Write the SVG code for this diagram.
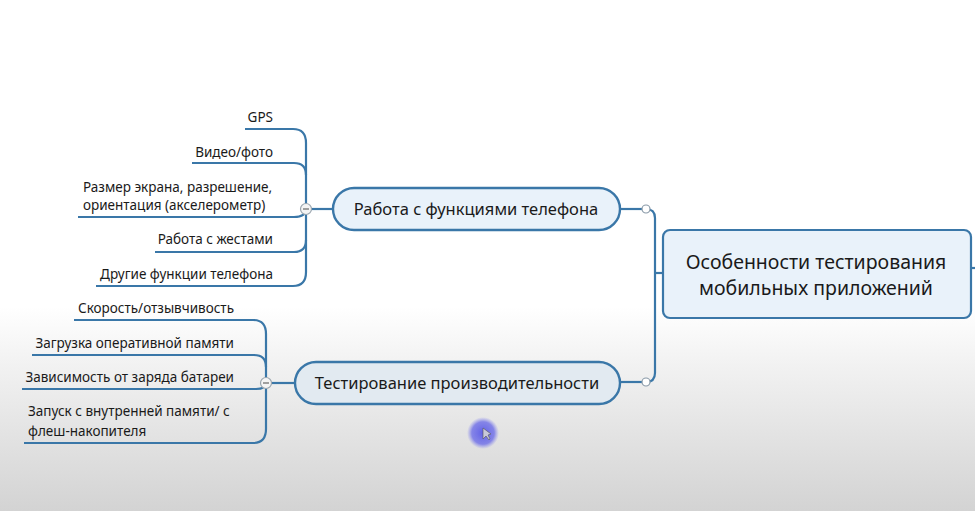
<svg xmlns="http://www.w3.org/2000/svg" width="975" height="511" viewBox="0 0 975 511">
<defs>
<linearGradient id="bg" x1="0" y1="0" x2="0" y2="1">
<stop offset="0" stop-color="#ffffff"/>
<stop offset="0.6" stop-color="#ffffff"/>
<stop offset="0.72" stop-color="#f1f1f1"/>
<stop offset="1" stop-color="#d3d3d3"/>
</linearGradient>
<radialGradient id="hl">
<stop offset="0" stop-color="#5a5ae6" stop-opacity="0.95"/>
<stop offset="0.7" stop-color="#6d6de8" stop-opacity="0.8"/>
<stop offset="1" stop-color="#8a8aee" stop-opacity="0"/>
</radialGradient>
<style>
.ln{fill:none;stroke:#3a77a8;stroke-width:2.2}
.leaf{font-family:"Noto Sans","Open Sans",sans-serif;font-size:13.5px;fill:#1a1a1a}
.br{fill:#e9f2fa;stroke:#3a77a8;stroke-width:2.4}
.brt{font-family:"Noto Sans","Open Sans",sans-serif;font-size:16.5px;fill:#1a1a1a;text-anchor:middle}
.root{fill:#e9f2fa;stroke:#3a77a8;stroke-width:2.2}
.rt{font-family:"Noto Sans","Open Sans",sans-serif;font-size:19.5px;fill:#1a1a1a;text-anchor:middle}
.tog{fill:#f4f4f4;stroke:#9aa5ae;stroke-width:1.2}
.knob{fill:#ffffff;stroke:#8a9aa8;stroke-width:1.2}
</style>
</defs>
<rect x="0" y="0" width="975" height="511" fill="url(#bg)"/>

<g id="connectors">
<!-- root to branches -->
<path class="ln" d="M620,209 L646,209"/>
<path class="ln" d="M620,382 L646,382"/>
<path class="ln" d="M646,209 Q655,209 655,218 L655,373 Q655,382 646,382"/>
<path class="ln" d="M655,273 L663,273"/>
<path class="ln" d="M970,268 L975,268"/>
<!-- branch 1 leaves -->
<path class="ln" d="M306,209 L333,209"/>
<path class="ln" d="M306,143 L306,272"/>
<path class="ln" d="M245,129 L293,129 Q306,129 306,143"/>
<path class="ln" d="M192,163 L294,163 Q306,163 306,175"/>
<path class="ln" d="M78,217 L294,217 Q306,217 306,209"/>
<path class="ln" d="M155,252 L294,252 Q306,252 306,240"/>
<path class="ln" d="M96,286 L293,286 Q306,286 306,272"/>
<!-- branch 2 leaves -->
<path class="ln" d="M266,383 L295,383"/>
<path class="ln" d="M266,334 L266,429"/>
<path class="ln" d="M74,320 L253,320 Q266,320 266,334"/>
<path class="ln" d="M32,355 L254,355 Q266,355 266,367"/>
<path class="ln" d="M22,389 L256,389 Q266,389 266,383"/>
<path class="ln" d="M24,443 L253,443 Q266,443 266,429"/>
</g>

<g id="root">
<rect class="root" x="663" y="230" width="308" height="88" rx="7"/>
<text class="rt" x="816" y="269">Особенности тестирования</text>
<text class="rt" x="816" y="295">мобильных приложений</text>
</g>

<g id="branch1">
<rect class="br" x="333" y="188" width="287" height="42" rx="21"/>
<text class="brt" x="476" y="215">Работа с функциями телефона</text>
</g>

<g id="branch2">
<rect class="br" x="295" y="362" width="325" height="42" rx="21" style="fill:#e2eaf1"/>
<text class="brt" x="457" y="389">Тестирование производительности</text>
</g>

<g id="toggles">
<circle class="knob" cx="646" cy="209" r="4"/>
<circle class="knob" cx="646" cy="382" r="4"/>
<circle class="tog" cx="306" cy="209" r="5.5"/>
<path d="M303,209 L309,209" stroke="#666" stroke-width="1.2"/>
<circle class="tog" cx="266" cy="383" r="5.5"/>
<path d="M263,383 L269,383" stroke="#666" stroke-width="1.2"/>
</g>

<g id="leaf-gps"><text class="leaf" x="273" y="122" text-anchor="end">GPS</text></g>
<g id="leaf-video"><text class="leaf" x="273" y="157" text-anchor="end">Видео/фото</text></g>
<g id="leaf-screen"><text class="leaf" x="83" y="192">Размер экрана, разрешение,</text><text class="leaf" x="83" y="210">ориентация (акселерометр)</text></g>
<g id="leaf-gestures"><text class="leaf" x="273" y="244" text-anchor="end">Работа с жестами</text></g>
<g id="leaf-other"><text class="leaf" x="273" y="279" text-anchor="end">Другие функции телефона</text></g>

<g id="leaf-speed"><text class="leaf" x="234" y="313" text-anchor="end">Скорость/отзывчивость</text></g>
<g id="leaf-ram"><text class="leaf" x="234" y="348" text-anchor="end">Загрузка оперативной памяти</text></g>
<g id="leaf-battery"><text class="leaf" x="234" y="382" text-anchor="end">Зависимость от заряда батареи</text></g>
<g id="leaf-storage"><text class="leaf" x="28" y="416">Запуск с внутренней памяти/ с</text><text class="leaf" x="28" y="436">флеш-накопителя</text></g>

<g id="cursor">
<circle cx="483" cy="433" r="16" fill="url(#hl)"/>
<path d="M483,428 L483,439 L486,436 L489,440 L490,439 L488,435 L491,434 Z" fill="#c8c8d8" stroke="#555" stroke-width="0.6"/>
</g>
</svg>
